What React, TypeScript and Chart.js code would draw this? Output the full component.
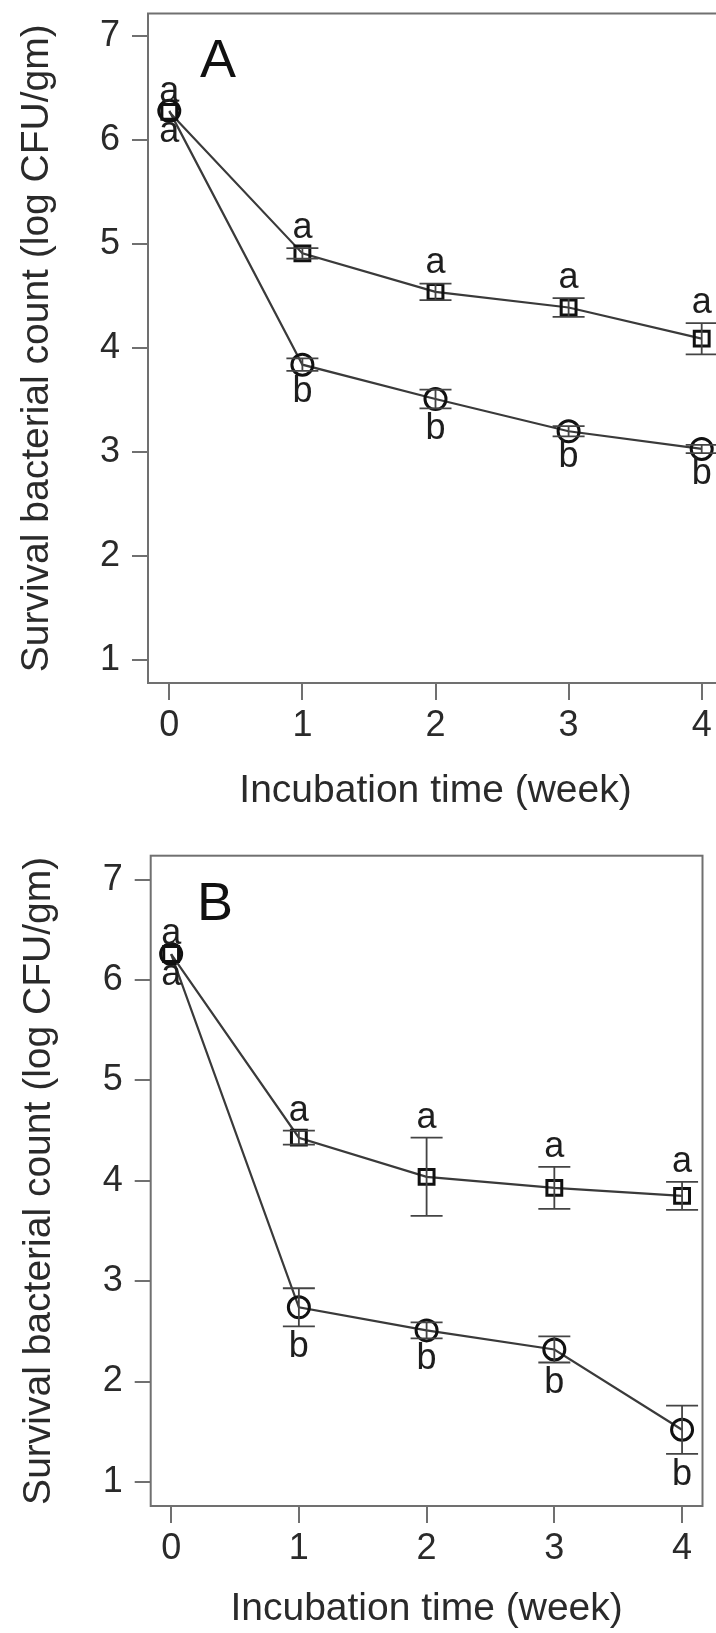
import React, { useEffect, useRef } from 'react';
import { Chart, registerables } from 'chart.js';

Chart.register(...registerables);

// ---- data ----
const weeks = [0, 1, 2, 3, 4];
const xTickValues = [0, 1, 2, 3, 4];
const yTickValues = [1, 2, 3, 4, 5, 6, 7];

const aSquare = [6.27, 4.91, 4.54, 4.39, 4.09];
const aSquareErr = [0, 0.05, 0.08, 0.09, 0.15];
const aCircle = [6.28, 3.84, 3.51, 3.2, 3.03];
const aCircleErr = [0, 0.06, 0.09, 0.05, 0.04];

const bSquare = [6.26, 4.43, 4.04, 3.93, 3.85];
const bSquareErr = [0, 0.07, 0.39, 0.21, 0.14];
const bCircle = [6.26, 2.74, 2.51, 2.32, 1.52];
const bCircleErr = [0, 0.19, 0.08, 0.13, 0.24];

const squareLetters = ['a', 'a', 'a', 'a', 'a'];
const circleLetters = ['a', 'b', 'b', 'b', 'b'];

const xTitle = 'Incubation time (week)';
const yTitle = 'Survival bacterial count (log CFU/gm)';

const FONT = "'Liberation Sans', Arial, Helvetica, sans-serif";

type Panel = {
  label: string;
  square: number[];
  squareErr: number[];
  circle: number[];
  circleErr: number[];
  top: number;
  cw: number;
  ch: number;
  area: { left: number; right: number; top: number; bottom: number };
  yMin: number;
  yMax: number;
  yTitlePad: number;
  xTitlePad: number;
  labelX: number;
  labelY: number;
};

const panels: Panel[] = [
  {
    label: 'A',
    square: aSquare,
    squareErr: aSquareErr,
    circle: aCircle,
    circleErr: aCircleErr,
    top: 0,
    cw: 740,
    ch: 830,
    area: { left: 148, right: 723, top: 12.5, bottom: 683 },
    yMin: 0.78,
    yMax: 7.216,
    yTitlePad: 13.6,
    xTitlePad: 15,
    labelX: 200,
    labelY: 77,
  },
  {
    label: 'B',
    square: bSquare,
    squareErr: bSquareErr,
    circle: bCircle,
    circleErr: bCircleErr,
    top: 830,
    cw: 716,
    ch: 803,
    area: { left: 150.7, right: 711.7, top: 25.7, bottom: 676 },
    yMin: 0.76,
    yMax: 7.24,
    yTitlePad: 15.6,
    xTitlePad: 0,
    labelX: 197,
    labelY: 90,
  },
];

function makeChart(canvas: HTMLCanvasElement, p: Panel) {
  const decor = {
    id: 'decor' + p.label,
    afterDatasetsDraw(chart: any) {
      const ctx = chart.ctx as CanvasRenderingContext2D;
      const { left, right, top, bottom } = chart.chartArea;
      const xs = chart.scales.x;
      const ys = chart.scales.y;
      ctx.save();
      // box
      ctx.strokeStyle = '#707070';
      ctx.lineWidth = 2;
      ctx.strokeRect(left, top, right - left, bottom - top);

      // error bars
      const drawErr = (vals: number[], errs: number[]) => {
        ctx.strokeStyle = '#444';
        ctx.lineWidth = 1.8;
        vals.forEach((v, i) => {
          const e = errs[i];
          if (!e) return;
          const x = xs.getPixelForValue(weeks[i]);
          const y1 = ys.getPixelForValue(v + e);
          const y2 = ys.getPixelForValue(v - e);
          ctx.beginPath();
          ctx.moveTo(x, y1);
          ctx.lineTo(x, y2);
          ctx.moveTo(x - 16, y1);
          ctx.lineTo(x + 16, y1);
          ctx.moveTo(x - 16, y2);
          ctx.lineTo(x + 16, y2);
          ctx.stroke();
        });
      };
      drawErr(p.square, p.squareErr);
      drawErr(p.circle, p.circleErr);

      // significance letters
      ctx.fillStyle = '#1e1e1e';
      ctx.font = `36px ${FONT}`;
      ctx.textAlign = 'center';
      ctx.textBaseline = 'middle';
      p.square.forEach((v, i) => {
        const x = xs.getPixelForValue(weeks[i]);
        const y = ys.getPixelForValue(v + p.squareErr[i]) - 20;
        ctx.fillText(squareLetters[i], x, y);
      });
      p.circle.forEach((v, i) => {
        const x = xs.getPixelForValue(weeks[i]);
        const y = ys.getPixelForValue(v - p.circleErr[i]) + 21;
        ctx.fillText(circleLetters[i], x, y);
      });

      // panel label
      ctx.fillStyle = '#111';
      ctx.font = `54px ${FONT}`;
      ctx.textAlign = 'left';
      ctx.textBaseline = 'alphabetic';
      ctx.fillText(p.label, p.labelX, p.labelY);
      ctx.restore();
    },
  };

  const zeroPad = (s: any) => {
    s.paddingLeft = 0;
    s.paddingRight = 0;
    s.paddingTop = 0;
    s.paddingBottom = 0;
  };

  return new Chart(canvas, {
    type: 'line',
    data: {
      datasets: [
        {
          data: weeks.map((w, i) => ({ x: w, y: p.square[i] })),
          borderColor: '#3a3a3a',
          borderWidth: 2.2,
          pointStyle: 'rect',
          pointRadius: 10.5,
          pointBorderWidth: 3,
          pointBorderColor: '#111',
          pointBackgroundColor: 'rgba(0,0,0,0)',
          clip: false as any,
        },
        {
          data: weeks.map((w, i) => ({ x: w, y: p.circle[i] })),
          borderColor: '#3a3a3a',
          borderWidth: 2.2,
          pointStyle: 'circle',
          pointRadius: 10.5,
          pointBorderWidth: 3,
          pointBorderColor: '#111',
          pointBackgroundColor: 'rgba(0,0,0,0)',
          clip: false as any,
        },
      ],
    },
    options: {
      animation: false,
      responsive: false,
      devicePixelRatio: 1,
      events: [],
      layout: {
        padding: { top: p.area.top, left: 0, right: p.cw - p.area.right, bottom: 0 },
      },
      plugins: { legend: { display: false }, tooltip: { enabled: false } },
      scales: {
        x: {
          type: 'linear',
          min: -0.16,
          max: 4.16,
          afterBuildTicks: (s: any) => {
            s.ticks = xTickValues.map((v) => ({ value: v }));
          },
          afterFit: (s: any) => {
            s.height = p.ch - p.area.bottom;
            zeroPad(s);
          },
          grid: {
            display: true,
            drawOnChartArea: false,
            drawTicks: true,
            tickLength: 17,
            color: '#707070',
            lineWidth: 2,
          },
          border: { display: false },
          ticks: {
            font: { family: FONT, size: 36 },
            color: '#2a2a2a',
            padding: 4,
            maxRotation: 0,
            autoSkip: false,
            callback: (v: any) => String(v),
          },
          title: {
            display: true,
            text: xTitle,
            font: { family: FONT, size: 39 },
            color: '#2a2a2a',
            padding: { top: 0, bottom: p.xTitlePad },
          },
        },
        y: {
          type: 'linear',
          min: p.yMin,
          max: p.yMax,
          afterBuildTicks: (s: any) => {
            s.ticks = yTickValues.map((v) => ({ value: v }));
          },
          afterFit: (s: any) => {
            s.width = p.area.left;
            zeroPad(s);
          },
          grid: {
            display: true,
            drawOnChartArea: false,
            drawTicks: true,
            tickLength: 16,
            color: '#707070',
            lineWidth: 2,
          },
          border: { display: false },
          ticks: {
            font: { family: FONT, size: 36 },
            color: '#2a2a2a',
            padding: 12,
            autoSkip: false,
            callback: (v: any) => String(v),
          },
          title: {
            display: true,
            text: yTitle,
            font: { family: FONT, size: 39 },
            color: '#2a2a2a',
            padding: { top: p.yTitlePad, bottom: 0 },
          },
        },
      },
    },
    plugins: [decor],
  } as any);
}

export default function App() {
  const refA = useRef<HTMLCanvasElement | null>(null);
  const refB = useRef<HTMLCanvasElement | null>(null);

  useEffect(() => {
    const charts: Chart[] = [];
    if (refA.current) charts.push(makeChart(refA.current, panels[0]));
    if (refB.current) charts.push(makeChart(refB.current, panels[1]));
    return () => charts.forEach((c) => c.destroy());
  }, []);

  return (
    <div
      style={{
        position: 'absolute',
        left: 0,
        top: 0,
        width: 716,
        height: 1633,
        overflow: 'hidden',
        background: '#fff',
      }}
    >
      {panels.map((p, i) => (
        <canvas
          key={p.label}
          ref={i === 0 ? refA : refB}
          width={p.cw}
          height={p.ch}
          style={{ position: 'absolute', left: 0, top: p.top, width: p.cw, height: p.ch }}
        />
      ))}
    </div>
  );
}
